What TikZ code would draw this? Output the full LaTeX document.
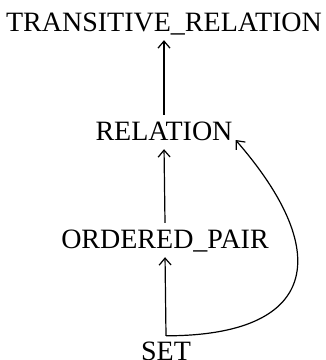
\documentclass[tikz,border=0pt]{standalone}
\usepackage{fontspec}
\setmainfont{Liberation Serif}
\usetikzlibrary{arrows.meta}

\begin{document}
\begin{tikzpicture}[x=1pt, y=1pt,
          concept/.style={font=\fontsize{28}{33}\selectfont, anchor=base, text height=19pt, text depth=0pt, inner ysep=6pt, inner xsep=3pt},
          isa/.style={-{Straight Barb[length=7pt, width=12pt]}, line width=1.2pt, shorten >=3pt}]
        \useasboundingbox (0,0) rectangle (326,360);
        \node[concept] (T) at (164,329) {TRANSITIVE\_RELATION};
        \node[concept] (R) at (164,220) {RELATION};
        \node[concept] (O) at (165,112) {ORDERED\_PAIR};
        \node[concept] (S) at (166,-1)  {SET};
        \draw[isa] (R.north) -- (T.south);
        \draw[isa] (O.north) -- (R.south);
        \draw[isa] (S.north) -- (O.south);
        \draw[isa, shorten >=0pt] (S.north) .. controls +(150,0) and +(100,-115) .. (R.base east);
      \end{tikzpicture}
\end{document}
